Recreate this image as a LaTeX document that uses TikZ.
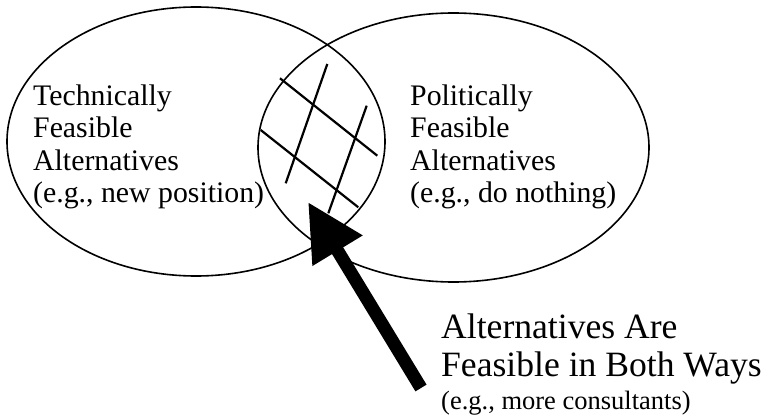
\documentclass[tikz,border=0pt]{standalone}
\usepackage{fontspec}
\setmainfont{Liberation Serif}
\usetikzlibrary{shapes.geometric,arrows.meta}
\begin{document}
\begin{tikzpicture}[x=1pt,y=-1pt,
  setshape/.style={draw, ellipse, line width=1.6pt, inner sep=0pt},
  midtext/.style={align=left, inner sep=0pt, anchor=base west, font=\fontsize{29.8}{32.5}\selectfont},
  bigtext/.style={inner sep=0pt, anchor=base west, font=\fontsize{35.6}{38}\selectfont},
  smalltext/.style={inner sep=0pt, anchor=base west, font=\fontsize{26.5}{28}\selectfont},
  hatch/.style={line width=2.2pt},
  bigarrow/.style={line width=13pt, -{Triangle[length=57pt,width=55pt]}}]
\useasboundingbox (0,0) rectangle (772,420);
\node[setshape, minimum width=378pt, minimum height=269pt] (tech) at (196,141.5) {};
\node[setshape, minimum width=391pt, minimum height=269pt] (pol) at (453.5,147.5) {};
\draw[hatch] (327.3,64) -- (285.7,183.3);
\draw[hatch] (366.7,105.7) -- (328.3,213.3);
\draw[hatch] (280,78.3) -- (377.3,155.7);
\draw[hatch] (260.7,130) -- (358.3,207.3);
\node[midtext] (techtext) at (33,202.5) {Technically\\Feasible\\Alternatives\\(e.g., new position)};
\node[midtext] (poltext) at (410,202.5) {Politically\\Feasible\\Alternatives\\(e.g., do nothing)};
\node[bigtext] (both1) at (441,338) {Alternatives Are};
\node[bigtext] (both2) at (441,376) {Feasible in Both Ways};
\node[smalltext] (both3) at (441,409) {(e.g., more consultants)};
\coordinate (tail) at (421,388);
\coordinate (tip) at (308,202);
\draw[bigarrow] (tail) -- (tip);
\end{tikzpicture}
\end{document}
